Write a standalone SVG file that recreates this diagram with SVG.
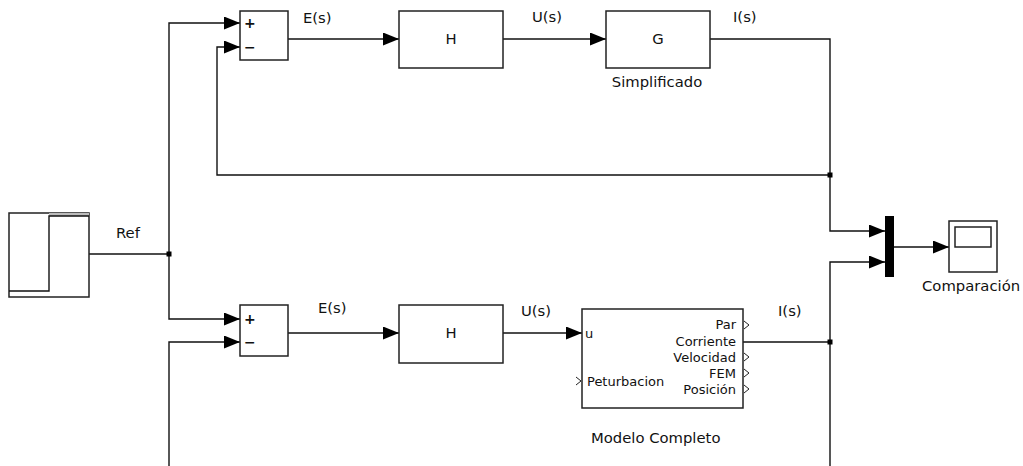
<svg xmlns="http://www.w3.org/2000/svg" width="1023" height="466" viewBox="0 0 1023 466">
<style>
.blk{fill:#fff;stroke:#222;stroke-width:1.5}
.ln{fill:none;stroke:#111;stroke-width:1.4}
.arw{fill:none;stroke:#111;stroke-width:1.4;marker-end:url(#ah)}
.t{font-family:"DejaVu Sans",Verdana,sans-serif;font-size:14.8px;fill:#111}
.p{font-family:"DejaVu Sans",Verdana,sans-serif;font-size:13px;fill:#111}
.s{font-family:"DejaVu Sans",Verdana,sans-serif;font-size:14px;font-weight:bold;fill:#111}
.chev{fill:none;stroke:#222;stroke-width:1}
</style>
<defs>
<marker id="ah" markerUnits="userSpaceOnUse" markerWidth="16" markerHeight="13" refX="16" refY="6.5" orient="auto">
<path d="M0,0 L16,6.5 L0,13 z" fill="#000"/>
</marker>
</defs>
<g id="connectors">
<path class="ln" d="M89,254 H169"/>
<path class="arw" d="M169,254 V23 H240"/>
<path class="arw" d="M169,254 V319 H240"/>
<path class="arw" d="M288,39 H399"/>
<path class="arw" d="M503,39 H606"/>
<path class="arw" d="M710,39 H830 V231 H885"/>
<path class="arw" d="M830,175 H217 V47 H240"/>
<path class="arw" d="M288,333 H399"/>
<path class="arw" d="M503,333 H582"/>
<path class="ln" d="M743,342 H830 V466"/>
<path class="arw" d="M830,342 V262 H885"/>
<path class="arw" d="M169,466 V342 H240"/>
<path class="arw" d="M894,247 H949"/>
<rect x="166.5" y="251.5" width="5" height="5" fill="#000"/>
<rect x="827.5" y="172.5" width="5" height="5" fill="#000"/>
<rect x="827.5" y="339.5" width="5" height="5" fill="#000"/>
<text class="t" x="116" y="238">Ref</text>
<text class="t" x="303" y="23">E(s)</text>
<text class="t" x="532" y="22">U(s)</text>
<text class="t" x="733" y="22">I(s)</text>
<text class="t" x="318" y="313">E(s)</text>
<text class="t" x="521" y="316">U(s)</text>
<text class="t" x="778" y="316">I(s)</text>
</g>
<g id="step">
<rect class="blk" x="9" y="213" width="80" height="84"/>
<rect x="49" y="213" width="40" height="3" fill="#bbb"/>
<path class="ln" d="M9,291 H49 V216 H89"/>
</g>
<g id="sum1">
<rect class="blk" x="240" y="11" width="48" height="49"/>
<text class="s" x="244" y="28">+</text>
<text class="s" x="244" y="52">−</text>
</g>
<g id="H1">
<rect class="blk" x="399" y="11" width="104" height="57"/>
<text class="t" x="451" y="44" text-anchor="middle">H</text>
</g>
<g id="G">
<rect class="blk" x="606" y="11" width="104" height="57"/>
<text class="t" x="658" y="44" text-anchor="middle">G</text>
<text class="t" x="657" y="87" text-anchor="middle">Simplificado</text>
</g>
<g id="sum2">
<rect class="blk" x="240" y="305" width="48" height="51"/>
<text class="s" x="244" y="324">+</text>
<text class="s" x="244" y="347">−</text>
</g>
<g id="H2">
<rect class="blk" x="399" y="305" width="104" height="58"/>
<text class="t" x="451" y="338" text-anchor="middle">H</text>
</g>
<g id="modelo">
<rect class="blk" x="582" y="309" width="161" height="99"/>
<text class="p" x="585" y="338">u</text>
<path class="chev" d="M576,377 L581,381 L576,385"/>
<text class="p" x="587" y="386">Peturbacion</text>
<text class="p" x="736" y="329" text-anchor="end">Par</text>
<text class="p" x="736" y="346" text-anchor="end">Corriente</text>
<text class="p" x="736" y="362" text-anchor="end">Velocidad</text>
<text class="p" x="736" y="378" text-anchor="end">FEM</text>
<text class="p" x="736" y="394" text-anchor="end">Posición</text>
<path class="chev" d="M744,321 L749,325 L744,329"/>
<path class="chev" d="M744,353 L749,357 L744,361"/>
<path class="chev" d="M744,369 L749,373 L744,377"/>
<path class="chev" d="M744,385 L749,389 L744,393"/>
<text class="t" x="591" y="443">Modelo Completo</text>
</g>
<g id="mux">
<rect x="885" y="216" width="9" height="61" fill="#000"/>
</g>
<g id="scope">
<rect class="blk" x="949" y="221" width="48" height="51"/>
<rect class="blk" x="955" y="227" width="36" height="20"/>
<text class="t" x="922" y="291">Comparación</text>
</g>
</svg>
